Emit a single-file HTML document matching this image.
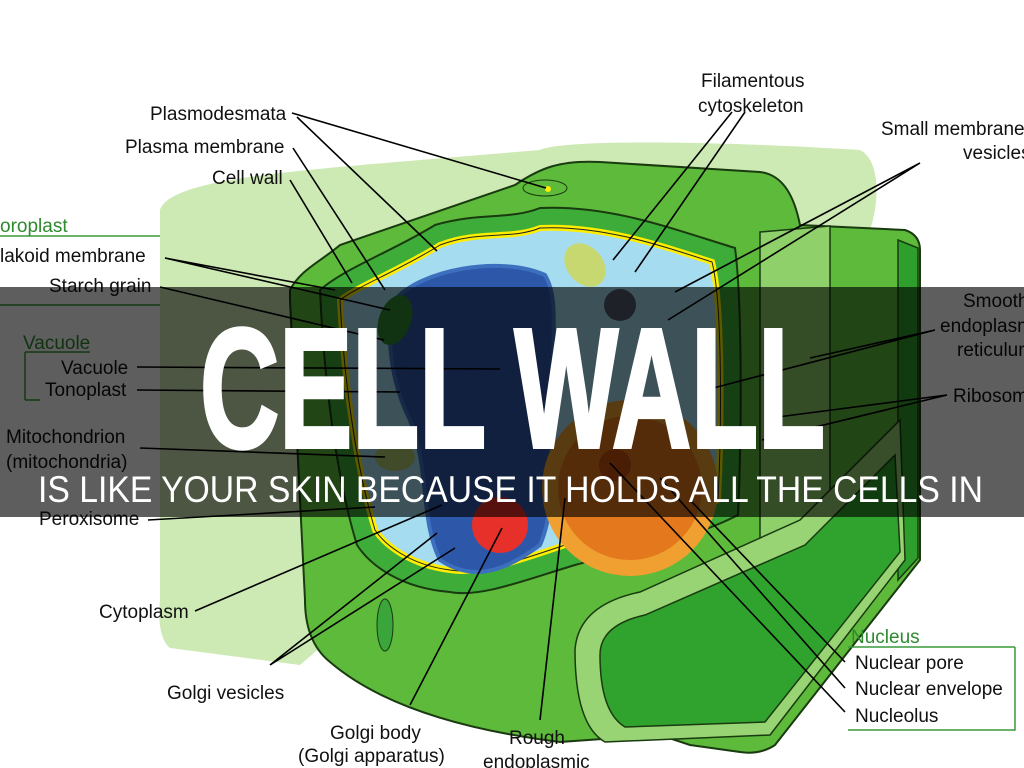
<!DOCTYPE html>
<html><head><meta charset="utf-8"><style>
html,body{margin:0;padding:0;background:#fff;width:1024px;height:768px;overflow:hidden}
svg{display:block}
</style></head><body>
<svg width="1024" height="768" viewBox="0 0 1024 768" xmlns="http://www.w3.org/2000/svg" font-family="Liberation Sans, sans-serif">
<path d="M160,210 C170,180 280,172 420,160 L540,150 C560,140 700,140 860,150 C880,160 880,200 870,230 L700,320 L300,665 L170,648 C160,640 158,620 160,600 Z" fill="#cde9b4"/>
<path d="M290,290 C300,270 320,262 340,245 L515,185 C540,168 560,160 600,162 L760,172 C785,175 795,200 800,225 L905,230 Q920,235 920,250 L920,560 L775,745 Q760,755 740,752 L690,745 L660,735 L560,742 Q400,722 330,662 Q305,642 305,600 L290,300 Z" fill="#5dba3b" stroke="#1a3a10" stroke-width="2"/>
<path d="M760,232 L830,226 L830,560 L760,640 Z" fill="#8fd06a" stroke="#1a3a10" stroke-width="1.5"/>
<path d="M898,240 L918,248 L918,558 L898,580 Z" fill="#2e9e2c" stroke="#1a3a10" stroke-width="1.5"/>
<path d="M575,650 Q578,605 640,592 L800,520 L900,420 L905,560 L770,735 L605,742 Q575,725 575,650 Z" fill="#98d474" stroke="#1a3a10" stroke-width="1.5"/>
<path d="M600,655 Q600,625 645,615 L805,545 L895,455 L900,552 L765,722 L625,727 Q600,712 600,655 Z" fill="#2fa32d" stroke="#1a3a10" stroke-width="1.5"/>
<path d="M320,290 C345,268 395,250 435,225 C480,212 510,220 540,208 C610,205 670,228 735,248 C742,300 742,430 738,515 C690,540 630,550 575,565 C525,580 480,598 450,592 C400,588 370,565 357,545 C340,490 325,400 320,290 Z" fill="#3eac38" stroke="#1a3a10" stroke-width="2"/>
<path d="M340,300 C360,285 400,270 440,245 C480,230 510,240 540,228 C600,225 660,245 712,262 C722,300 722,420 718,500 C680,520 620,530 565,545 C520,560 480,575 450,570 C410,565 385,545 375,530 C360,480 345,400 340,300 Z" fill="#a6dcef" stroke="#ffee00" stroke-width="6"/>
<path d="M340,300 C360,285 400,270 440,245 C480,230 510,240 540,228 C600,225 660,245 712,262 C722,300 722,420 718,500 C680,520 620,530 565,545 C520,560 480,575 450,570 C410,565 385,545 375,530 C360,480 345,400 340,300 Z" fill="none" stroke="#222" stroke-width="1"/>
<path d="M395,300 C420,270 500,255 545,275 C560,300 550,340 555,380 C545,440 560,500 540,545 C500,575 470,580 440,560 C420,520 430,470 410,420 C390,380 385,330 395,300 Z" fill="#2d57a8" stroke="#3c70bf" stroke-width="4"/>
<circle cx="630" cy="488" r="88" fill="#f0a030"/>
<circle cx="630" cy="488" r="72" fill="#e3781c"/>
<circle cx="615" cy="465" r="16" fill="#c85010"/>
<ellipse cx="395" cy="320" rx="16" ry="26" fill="#2e8a2e" transform="rotate(20 395 320)"/>
<ellipse cx="585" cy="265" rx="18" ry="24" fill="#c8d870" transform="rotate(-40 585 265)"/>
<ellipse cx="395" cy="457" rx="20" ry="14" fill="#b0c870"/>
<circle cx="500" cy="525" r="28" fill="#e8302a"/>
<circle cx="620" cy="305" r="16" fill="#555a70"/>
<ellipse cx="385" cy="625" rx="8" ry="26" fill="#3aa53a" stroke="#1a3a10"/>
<ellipse cx="545" cy="188" rx="22" ry="8" fill="#5dba3b" stroke="#1a3a10"/>
<circle cx="548" cy="189" r="3" fill="#ffee00"/>
<g stroke="#000" stroke-width="1.6" fill="none">
<path d="M292,113 L546,188 M297,117 L437,251 M293,148 L385,290 M290,180 L352,283"/>
<path d="M165,258 L390,310 M165,258 L335,290 M160,287 L384,340"/>
<path d="M137,367 L500,369 M137,390 L400,392 M140,448 L385,457 M148,520 L375,507"/>
<path d="M195,611 L442,505 M270,665 L437,533 M270,665 L455,548 M410,705 L502,528 M540,720 L565,498"/>
<path d="M732,112 L613,260 M745,112 L635,272 M920,163 L675,292 M920,163 L668,320"/>
<path d="M935,330 L810,358 M935,330 L698,392 M947,395 L770,418 M947,395 L762,440"/>
<path d="M845,662 L690,500 M845,688 L660,478 M845,712 L610,463"/>
</g>
<g stroke="#3a9a3a" stroke-width="1.5" fill="none">
<path d="M0,236 L160,236 M0,305 L160,305"/>
<path d="M25,352 L90,352 M25,352 L25,400 M25,400 L40,400"/>
<path d="M848,647 L1015,647 M848,730 L1015,730 L1015,647"/>
</g>
<g font-size="19" fill="#111">
<text x="150" y="120">Plasmodesmata</text>
<text x="125" y="153">Plasma membrane</text>
<text x="212" y="184">Cell wall</text>
<text x="0" y="262">lakoid membrane</text>
<text x="49" y="292">Starch grain</text>
<text x="61" y="374">Vacuole</text>
<text x="45" y="396">Tonoplast</text>
<text x="6" y="443">Mitochondrion</text>
<text x="6" y="468">(mitochondria)</text>
<text x="39" y="525">Peroxisome</text>
<text x="99" y="618">Cytoplasm</text>
<text x="167" y="699">Golgi vesicles</text>
<text x="330" y="739">Golgi body</text>
<text x="298" y="762">(Golgi apparatus)</text>
<text x="509" y="744">Rough</text>
<text x="483" y="768">endoplasmic</text>
<text x="701" y="87">Filamentous</text>
<text x="698" y="112">cytoskeleton</text>
<text x="881" y="135">Small membrane</text>
<text x="963" y="159">vesicles</text>
<text x="963" y="307">Smooth</text>
<text x="940" y="332">endoplasmic</text>
<text x="957" y="356">reticulum</text>
<text x="953" y="402">Ribosomes</text>
<text x="855" y="669">Nuclear pore</text>
<text x="855" y="695">Nuclear envelope</text>
<text x="855" y="722">Nucleolus</text>
</g>
<g font-size="19" fill="#2e8b2e">
<text x="0" y="232">oroplast</text>
<text x="23" y="349">Vacuole</text>
<text x="851" y="643">Nucleus</text>
</g>
<rect x="0" y="287" width="1024" height="230" fill="#000" fill-opacity="0.63"/>
<text x="200" y="447" font-size="170" font-weight="bold" fill="#fff" stroke="#fff" stroke-width="4" textLength="625" lengthAdjust="spacingAndGlyphs">CELL WALL</text>
<text x="38" y="502" font-size="37" fill="#fff" textLength="945" lengthAdjust="spacingAndGlyphs">IS LIKE YOUR SKIN BECAUSE IT HOLDS ALL THE CELLS IN</text>
</svg>
</body></html>
